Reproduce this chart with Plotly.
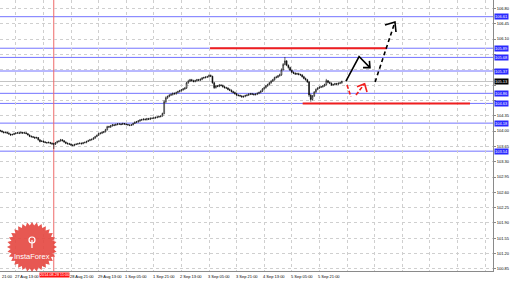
import math
import plotly.graph_objects as go

# ---------------- data (USD/JPY H1) ----------------
first_bar = -9          # bar index of the first candle (27 Aug 13:00 = 0)
first_open = 104.01
closes = [
    104.00, 103.98, 103.96, 103.97, 103.95, 103.93, 103.91, 103.92, 103.94, 103.95,
    103.96, 103.95, 103.97, 103.95, 103.96, 103.94, 103.91, 103.88, 103.87, 103.86,
    103.84, 103.85, 103.80, 103.76, 103.77, 103.75, 103.74, 103.73, 103.74, 103.72,
    103.71, 103.70, 103.73, 103.76, 103.77, 103.80, 103.78, 103.75, 103.72, 103.71,
    103.70, 103.68, 103.67, 103.69, 103.70, 103.71, 103.72, 103.71, 103.73, 103.74,
    103.76, 103.78, 103.80, 103.81, 103.84, 103.87, 103.90, 103.94, 103.95, 103.97,
    103.98, 104.03, 104.10, 104.09, 104.12, 104.14, 104.13, 104.15, 104.16, 104.16,
    104.15, 104.17, 104.16, 104.15, 104.14, 104.13, 104.14, 104.17, 104.20, 104.21,
    104.23, 104.25, 104.26, 104.27, 104.26, 104.28, 104.27, 104.29, 104.29, 104.30,
    104.31, 104.32, 104.33, 104.34, 104.40, 104.67, 104.76, 104.79, 104.82, 104.83,
    104.86, 104.85, 104.88, 104.90, 104.92, 104.94, 104.96, 104.98, 105.10, 105.14,
    105.17, 105.15, 105.13, 105.15, 105.17, 105.16, 105.18, 105.21, 105.22, 105.23,
    105.24, 105.27, 105.25, 105.10, 104.99, 105.03, 105.02, 105.05, 105.04, 105.01,
    104.99, 104.98, 104.95, 104.93, 104.90, 104.88, 104.85, 104.82, 104.81, 104.80,
    104.78, 104.79, 104.81, 104.82, 104.84, 104.85, 104.84, 104.83, 104.84, 104.86,
    104.88, 104.91, 104.96, 104.99, 105.03, 105.06, 105.10, 105.14, 105.17, 105.22,
    105.23, 105.26, 105.28, 105.40, 105.52, 105.60, 105.50, 105.45, 105.39, 105.34,
    105.32, 105.30, 105.31, 105.29, 105.28, 105.24, 105.20, 105.17, 105.12, 104.82,
    104.72, 104.80, 104.89, 104.95, 104.98, 105.00, 105.01, 105.03, 105.06, 105.15,
    105.11, 105.09, 105.05, 105.06, 105.08, 105.07, 105.09, 105.10, 105.13,
]
highs = [
    104.03, 104.02, 104.00, 103.99, 103.98, 103.97, 103.94, 103.94, 103.96, 103.97,
    103.98, 103.97, 103.99, 103.98, 103.97, 103.97, 103.95, 103.92, 103.90, 103.88,
    103.87, 103.87, 103.86, 103.81, 103.79, 103.78, 103.77, 103.75, 103.76, 103.75,
    103.74, 103.73, 103.75, 103.78, 103.79, 103.82, 103.81, 103.79, 103.76, 103.74,
    103.73, 103.72, 103.70, 103.71, 103.72, 103.73, 103.74, 103.74, 103.75, 103.76,
    103.78, 103.80, 103.82, 103.83, 103.86, 103.89, 103.92, 103.96, 103.97, 103.99,
    104.00, 104.05, 104.12, 104.12, 104.14, 104.16, 104.16, 104.17, 104.18, 104.18,
    104.18, 104.19, 104.18, 104.17, 104.16, 104.15, 104.16, 104.19, 104.22, 104.23,
    104.25, 104.27, 104.28, 104.29, 104.29, 104.30, 104.30, 104.31, 104.31, 104.32,
    104.33, 104.34, 104.35, 104.36, 104.42, 104.70, 104.79, 104.81, 104.84, 104.86,
    104.88, 104.88, 104.90, 104.92, 104.94, 104.96, 104.98, 105.00, 105.12, 105.17,
    105.19, 105.19, 105.17, 105.17, 105.19, 105.19, 105.20, 105.23, 105.24, 105.25,
    105.26, 105.29, 105.29, 105.26, 105.12, 105.05, 105.05, 105.07, 105.07, 105.06,
    105.03, 105.01, 105.00, 104.97, 104.95, 104.92, 104.90, 104.87, 104.84, 104.83,
    104.82, 104.81, 104.83, 104.84, 104.86, 104.87, 104.87, 104.86, 104.86, 104.88,
    104.90, 104.93, 104.98, 105.01, 105.05, 105.08, 105.12, 105.16, 105.19, 105.24,
    105.26, 105.28, 105.31, 105.43, 105.55, 105.69, 105.62, 105.52, 105.47, 105.41,
    105.36, 105.34, 105.33, 105.33, 105.31, 105.30, 105.26, 105.22, 105.19, 105.14,
    104.85, 104.82, 104.91, 104.97, 105.00, 105.02, 105.03, 105.05, 105.08, 105.19,
    105.16, 105.13, 105.11, 105.08, 105.10, 105.10, 105.11, 105.12, 105.15,
]
lows = [
    103.99, 103.97, 103.95, 103.95, 103.94, 103.92, 103.89, 103.90, 103.91, 103.93,
    103.94, 103.93, 103.94, 103.94, 103.94, 103.93, 103.90, 103.86, 103.85, 103.84,
    103.82, 103.83, 103.78, 103.74, 103.75, 103.73, 103.72, 103.71, 103.72, 103.70,
    103.68, 103.59, 103.68, 103.72, 103.74, 103.76, 103.76, 103.73, 103.70, 103.69,
    103.68, 103.66, 103.65, 103.66, 103.68, 103.69, 103.70, 103.69, 103.70, 103.72,
    103.72, 103.75, 103.77, 103.78, 103.80, 103.82, 103.86, 103.89, 103.92, 103.93,
    103.95, 103.97, 104.01, 104.07, 104.07, 104.10, 104.11, 104.12, 104.13, 104.14,
    104.13, 104.14, 104.14, 104.13, 104.12, 104.11, 104.12, 104.13, 104.16, 104.18,
    104.19, 104.21, 104.23, 104.24, 104.24, 104.24, 104.25, 104.25, 104.27, 104.27,
    104.28, 104.29, 104.30, 104.31, 104.33, 104.38, 104.64, 104.73, 104.77, 104.80,
    104.81, 104.83, 104.83, 104.86, 104.88, 104.90, 104.92, 104.94, 104.96, 105.08,
    105.12, 105.13, 105.11, 105.11, 105.13, 105.14, 105.14, 105.16, 105.19, 105.20,
    105.21, 105.22, 105.23, 105.08, 104.96, 104.97, 105.00, 105.00, 105.02, 104.99,
    104.97, 104.96, 104.93, 104.91, 104.88, 104.86, 104.83, 104.80, 104.79, 104.78,
    104.76, 104.76, 104.77, 104.79, 104.80, 104.82, 104.82, 104.81, 104.81, 104.82,
    104.84, 104.86, 104.89, 104.94, 104.97, 105.01, 105.04, 105.08, 105.12, 105.15,
    105.20, 105.21, 105.24, 105.26, 105.38, 105.50, 105.48, 105.42, 105.37, 105.32,
    105.30, 105.28, 105.28, 105.27, 105.26, 105.22, 105.18, 105.15, 105.10, 104.78,
    104.67, 104.70, 104.78, 104.87, 104.93, 104.96, 104.98, 104.99, 105.01, 105.04,
    105.09, 105.07, 105.03, 105.03, 105.04, 105.05, 105.05, 105.07, 105.08,
]

# time labels (the 28 Aug 05:00 label is covered by the crosshair box in the reference)
time_tick_index = [0, 32, 48, 64, 80, 96, 112, 128, 144, 160, 176]
time_tick_labels = ["27 Aug 13:00", "28 Aug 21:00", "29 Aug 13:00",
                    "1 Sep 05:00", "1 Sep 21:00", "2 Sep 13:00", "3 Sep 05:00",
                    "3 Sep 21:00", "4 Sep 13:00", "5 Sep 05:00", "5 Sep 21:00"]
grid_index = list(range(-16, 288, 16))

price_ticks = [100.85, 101.20, 101.55, 101.90, 102.25, 102.60, 102.95, 103.30, 103.65,
               104.00, 104.35, 104.70, 105.05, 105.40, 105.75, 106.10, 106.45, 106.80]
level_values = [106.61, 105.89, 105.68, 105.37, 104.86, 104.63, 104.18, 103.54]
current_price = 105.13
crosshair_bar = 22
crosshair_label = "2014.08.28 11:00"

# analyst drawings: (bar index, price)
red_segments = [((112.6, 105.89), (215.2, 105.89)), ((166.3, 104.63), (263.3, 104.63))]
black_solid = [[(191.4, 105.14), (199.0, 105.70), (205.3, 105.446)],
               [(201.3, 105.446), (205.3, 105.446), (205.0, 105.60)]]
black_dashed = [[(208.3, 105.12), (219.8, 106.49)]]
black_head = [[(214.0, 106.42), (219.8, 106.49), (220.4, 106.26)]]
red_dashed = [[(192.0, 105.05), (194.3, 104.78)], [(197.2, 104.82), (202.2, 105.08)]]
red_head = [[(197.8, 105.01), (202.2, 105.08), (203.6, 104.89)]]

# ---------------- figure ----------------
W, H = 510, 281
ML, MR, MT, MB = 0, 17, 0, 10
PW, PH = W - ML - MR, H - MT - MB
FONT = "Liberation Sans"

bar_index = list(range(first_bar, first_bar + len(closes)))
opens = [first_open] + closes[:-1]

fig = go.Figure()
fig.add_trace(go.Candlestick(
    x=bar_index, open=opens, high=highs, low=lows, close=closes,
    increasing=dict(line=dict(color="black", width=0.6), fillcolor="white"),
    decreasing=dict(line=dict(color="black", width=0.6), fillcolor="black"),
    whiskerwidth=0, showlegend=False, hoverinfo="skip"))

shapes = []
for v in level_values:
    shapes.append(dict(type="line", xref="paper", x0=0, x1=1, yref="y", y0=v, y1=v,
                       line=dict(color="#7373ff", width=1), layer="below"))
shapes.append(dict(type="line", xref="paper", x0=0, x1=1, yref="y", y0=current_price,
                   y1=current_price, line=dict(color="#c4c4c4", width=1), layer="below"))
shapes.append(dict(type="line", xref="x", x0=crosshair_bar, x1=crosshair_bar, yref="paper",
                   y0=0, y1=1, line=dict(color="#ee6a6a", width=1), layer="below"))
for (a, b) in red_segments:
    shapes.append(dict(type="line", xref="x", yref="y", x0=a[0], y0=a[1], x1=b[0], y1=b[1],
                       line=dict(color="#f01e1e", width=2)))


def path(pts):
    return "M " + " L ".join(f"{x},{y}" for x, y in pts)


for p in black_solid + black_head:
    shapes.append(dict(type="path", xref="x", yref="y", path=path(p),
                       line=dict(color="black", width=1.6)))
for p in black_dashed:
    shapes.append(dict(type="path", xref="x", yref="y", path=path(p),
                       line=dict(color="black", width=1.6, dash="4px,3px")))
for p in red_dashed:
    shapes.append(dict(type="path", xref="x", yref="y", path=path(p),
                       line=dict(color="#f01e1e", width=1.6, dash="4px,2px")))
for p in red_head:
    shapes.append(dict(type="path", xref="x", yref="y", path=path(p),
                       line=dict(color="#f01e1e", width=1.6)))


def to_paper(px, py):
    return (px - ML) / PW, 1 - (py - MT) / PH


# InstaForex logo (decoration)
cx, cy, ro, ri, n = 32, 247, 25, 21.5, 32
pts = []
for k in range(2 * n):
    r = ro if k % 2 == 0 else ri
    a = math.pi * k / n
    pts.append(to_paper(cx + r * math.cos(a), cy + r * math.sin(a)))
shapes.append(dict(type="path", xref="paper", yref="paper",
                   path="M " + " L ".join(f"{x:.4f},{y:.4f}" for x, y in pts) + " Z",
                   fillcolor="#e4463f", opacity=0.9, line=dict(width=0), layer="above"))
x0, y0 = to_paper(cx - 3, 237)
x1, y1 = to_paper(cx + 3, 243)
shapes.append(dict(type="circle", xref="paper", yref="paper", x0=x0, y0=y1, x1=x1, y1=y0,
                   line=dict(color="white", width=1.2), layer="above"))
sx, sy0 = to_paper(cx, 240)
_, sy1 = to_paper(cx, 248)
shapes.append(dict(type="line", xref="paper", yref="paper", x0=sx, x1=sx, y0=sy0, y1=sy1,
                   line=dict(color="white", width=1.2), layer="above"))

annotations = []
small = dict(family=FONT, size=4, color="black")
annotations.append(dict(x=0, xref="paper", y=0, yref="paper", yanchor="top", xanchor="left",
                        yshift=-1, text="21:00", showarrow=False, font=small))
for i, t in zip(time_tick_index, time_tick_labels):
    annotations.append(dict(x=i, xref="x", y=0, yref="paper", yanchor="top", xanchor="left",
                            xshift=-3, yshift=-1, text=t, showarrow=False, font=small))
annotations.append(dict(x=crosshair_bar, xref="x", y=0, yref="paper", yanchor="top",
                        xanchor="center", xshift=1, yshift=-1, text=crosshair_label,
                        showarrow=False, bgcolor="#ff1010", borderpad=0,
                        font=dict(family=FONT, size=3.8, color="white")))
for v in level_values:
    annotations.append(dict(x=1, xref="paper", y=v, yref="y", xanchor="left", yanchor="middle",
                            xshift=1, text=f"{v:.2f}", showarrow=False, bgcolor="#2a2aff",
                            borderpad=0, font=dict(family=FONT, size=4, color="white")))
annotations.append(dict(x=1, xref="paper", y=current_price, yref="y", xanchor="left",
                        yanchor="middle", xshift=1, text=f"{current_price:.2f}", showarrow=False,
                        bgcolor="black", borderpad=0,
                        font=dict(family=FONT, size=4, color="white")))
lx, ly = to_paper(cx, 256)
annotations.append(dict(x=lx, y=ly, xref="paper", yref="paper", xanchor="center",
                        yanchor="middle", text="InstaForex", showarrow=False,
                        font=dict(family=FONT, size=7.5, color="white")))

# axis tick labels hidden behind the price boxes, as in the reference
boxed = level_values + [current_price]
tick_text = ["" if min(abs(v - b) for b in boxed) < 0.1 else f"{v:.2f}" for v in price_ticks]

x_lo = -9.16
x_hi = x_lo + PW / 1.725
fig.update_layout(
    width=W, height=H, margin=dict(l=ML, r=MR, t=MT, b=MB, pad=0),
    paper_bgcolor="white", plot_bgcolor="white",
    shapes=shapes, annotations=annotations, showlegend=False,
    xaxis=dict(range=[x_lo, x_hi], tickvals=grid_index, showticklabels=False,
               showgrid=True, gridcolor="#cfcfcf", griddash="dot", gridwidth=1,
               showline=True, linecolor="#8a8a8a", linewidth=1, zeroline=False,
               ticks="", rangeslider=dict(visible=False), fixedrange=True),
    yaxis=dict(side="right", range=[100.804, 106.991], tickvals=price_ticks,
               ticktext=tick_text,
               showgrid=True, gridcolor="#cfcfcf", griddash="dot", gridwidth=1,
               showline=True, linecolor="#8a8a8a", linewidth=1, zeroline=False,
               ticks="outside", ticklen=2, tickcolor="#8a8a8a",
               tickfont=dict(family=FONT, size=4, color="black"), fixedrange=True),
)
fig.write_html("out.html")
